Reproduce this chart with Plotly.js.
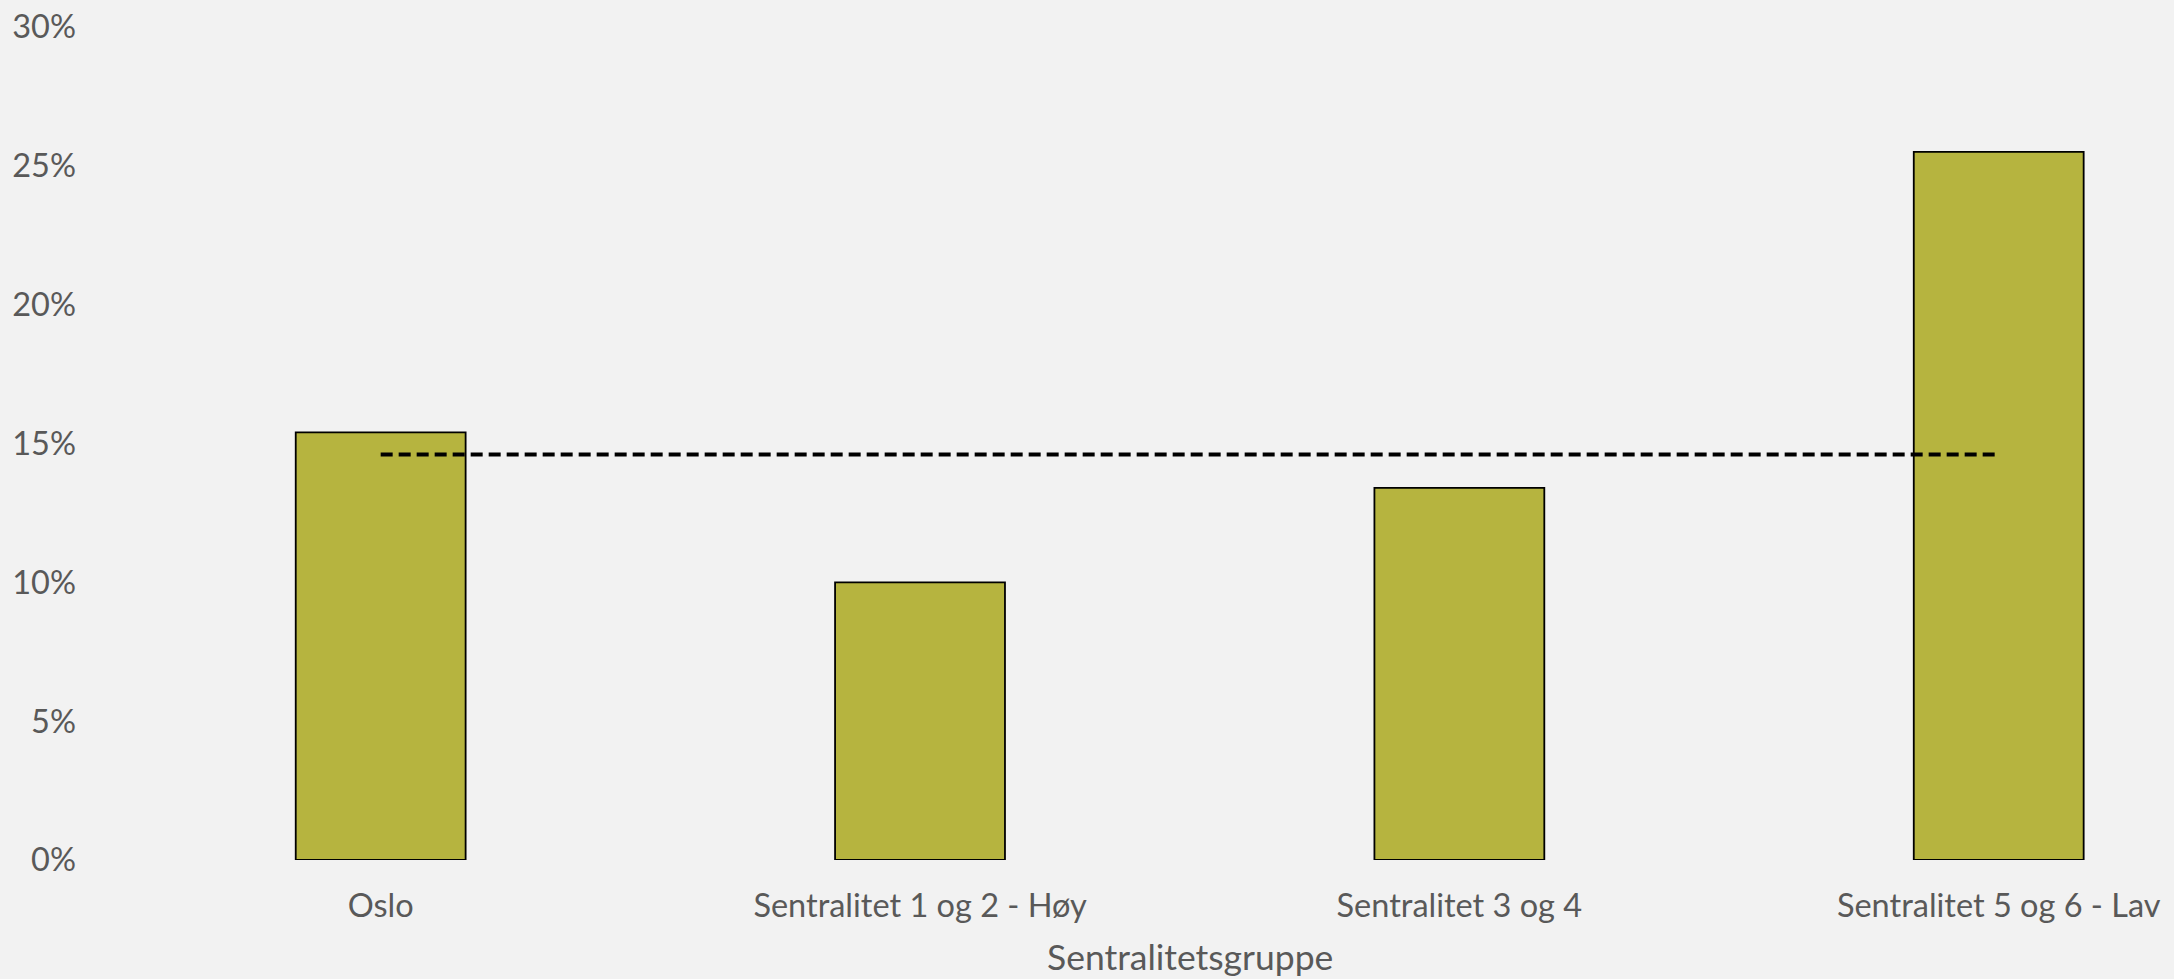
<!DOCTYPE html>
<html>
<head>
<meta charset="utf-8">
<script src="https://cdn.plot.ly/plotly-3.0.1.min.js"></script>
<style>html,body{margin:0;padding:0;background:#F2F2F2;}#chart{width:2174px;height:979px;}</style>
</head>
<body>
<div id="chart"></div>
<script>
const categories = ["Oslo", "Sentralitet 1 og 2 - Høy", "Sentralitet 3 og 4", "Sentralitet 5 og 6 - Lav"];
const shareValues = [15.4, 10.0, 13.4, 25.5];
const averageValue = [14.6, 14.6, 14.6, 14.6];
const yTickValues = [0, 5, 10, 15, 20, 25, 30];
const yTickLabels = ["0%", "5%", "10%", "15%", "20%", "25%", "30%"];
const xTitle = "Sentralitetsgruppe";

const tickFont = {family: "Lato, 'Open Sans', sans-serif", size: 32.5, color: "#595959"};
const titleFont = {family: "Lato, 'Open Sans', sans-serif", size: 35.5, color: "#595959"};

const traces = [
  {
    type: "bar", x: categories, y: shareValues, width: 0.315,
    marker: {color: "#B6B43F", line: {color: "#000000", width: 1.8}},
    hoverinfo: "x+y", showlegend: false
  },
  {
    type: "scatter", mode: "lines", x: categories, y: averageValue,
    line: {color: "#000000", width: 4, dash: "12px,6px"},
    showlegend: false
  }
];

const layout = {
  width: 2174, height: 979,
  paper_bgcolor: "#F2F2F2", plot_bgcolor: "#F2F2F2",
  margin: {l: 111, r: 0, t: 27, b: 119},
  font: tickFont,
  showlegend: false,
  bargap: 0,
  xaxis: {
    type: "category", range: [-0.5, 3.325],
    showgrid: false, zeroline: false, showline: false, ticks: "",
    tickfont: tickFont, ticklabelstandoff: 23
  },
  yaxis: {
    range: [0, 30], tickvals: yTickValues, ticktext: yTickLabels,
    showgrid: false, zeroline: false, showline: false, ticks: "",
    tickfont: tickFont, ticklabelstandoff: 34
  },
  annotations: [{
    text: xTitle, xref: "x", yref: "paper", x: 1.5, y: -0.116,
    xanchor: "center", yanchor: "middle", showarrow: false, font: titleFont
  }]
};

Plotly.newPlot("chart", traces, layout, {displayModeBar: false, staticPlot: true});
</script>
</body>
</html>
